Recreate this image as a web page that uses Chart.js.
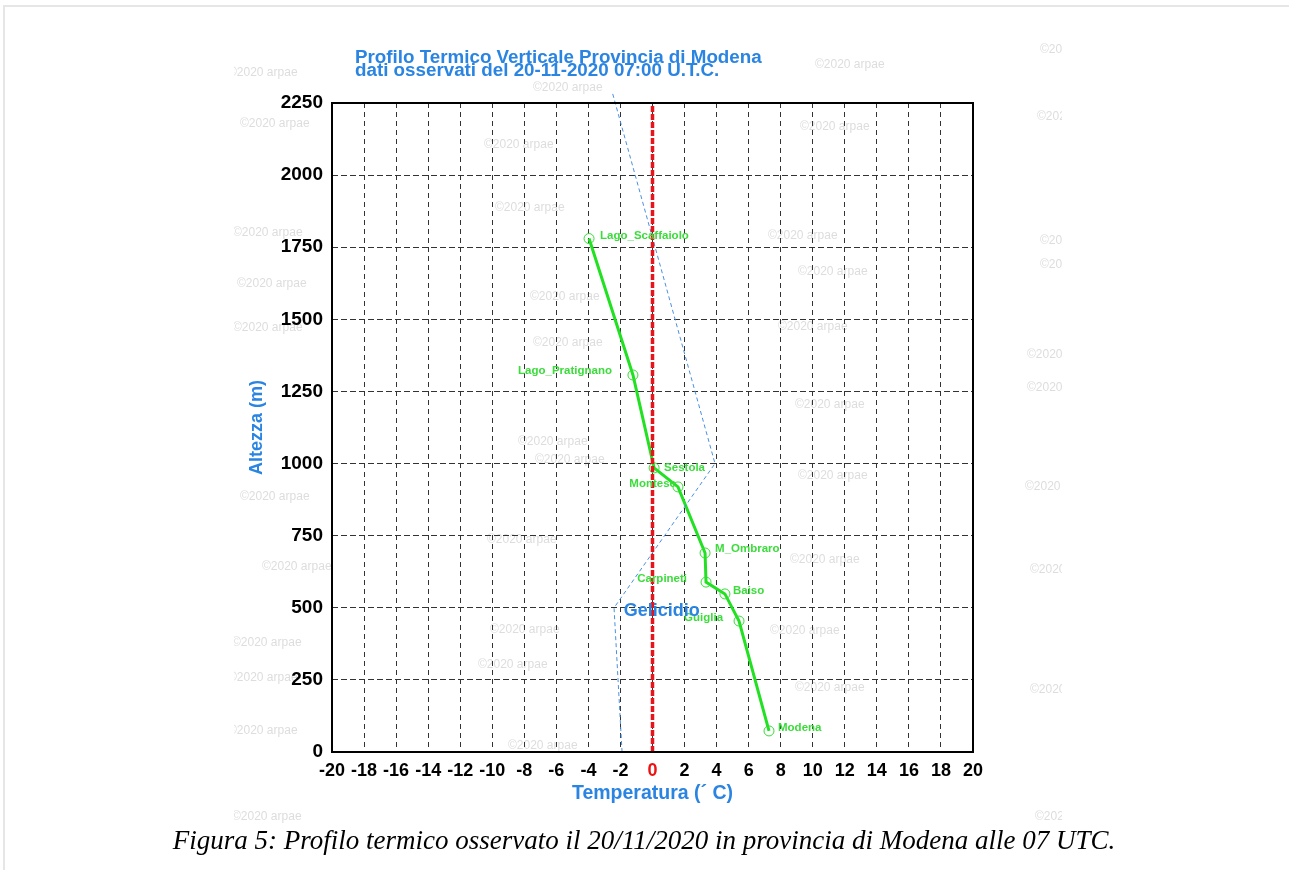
<!DOCTYPE html>
<html><head><meta charset="utf-8">
<script src="https://cdn.jsdelivr.net/npm/chart.js@4.4.0/dist/chart.umd.min.js"></script>
<style>
html,body{margin:0;padding:0;background:#fff;}
#wrap{position:relative;width:1289px;height:870px;overflow:hidden;}
#frame{position:absolute;left:3px;top:5px;width:1290px;height:870px;border-left:2px solid #e6e6e6;border-top:2px solid #e6e6e6;box-sizing:border-box;}
canvas{position:absolute;left:0;top:0;}
</style></head>
<body><div id="wrap"><div id="frame"></div><canvas id="c" width="1289" height="870"></canvas></div>
<script>
// ---- data ----
const stationNames   = ['Lago_Scaffaiolo','Lago_Pratignano','Sestola','Montese','M_Ombraro','Carpineti','Baiso','Guiglia','Modena'];
const stationTemps   = [-3.96, -1.22, 0.1, 1.59, 3.28, 3.34, 4.52, 5.4, 7.27];
const stationHeights = [1780, 1307, 985, 919, 690, 589, 548, 454, 73];
const refTemps   = [-1.9, -2.4, 3.9, -2.5];
const refHeights = [0, 500, 1000, 2285];
const zeroTemps   = [0, 0];
const zeroHeights = [0, 2250];
const xTicks = [-20,-18,-16,-14,-12,-10,-8,-6,-4,-2,0,2,4,6,8,10,12,14,16,18,20];
const yTicks = [0,250,500,750,1000,1250,1500,1750,2000,2250];
const titleLines = ['Profilo Termico Verticale Provincia di Modena','dati osservati del 20-11-2020 07:00 U.T.C.'];
const xTitle = 'Temperatura (\u00B4 C)';
const yTitle = 'Altezza (m)';
const captionText = 'Figura 5: Profilo termico osservato il 20/11/2020 in provincia di Modena alle 07 UTC.';
const noteText = 'Gelicidio';
const noteTemp = -1.8;
const noteHeight = 490;

// ---- styling (not data) ----
const labelPlacement = {
  'Lago_Scaffaiolo': {align:'left',  dx: 11, dy:-3},
  'Lago_Pratignano': {align:'right', dx:-21, dy:-4},
  'Sestola':         {align:'left',  dx: 10, dy: 0},
  'Montese':         {align:'right', dx: -2, dy:-3},
  'M_Ombraro':       {align:'left',  dx: 10, dy:-4},
  'Carpineti':       {align:'right', dx:-19, dy:-3},
  'Baiso':           {align:'left',  dx:  8, dy:-3},
  'Guiglia':         {align:'right', dx:-16, dy:-3},
  'Modena':          {align:'left',  dx:  9, dy:-3}
};
const watermarks = [
  [228,73],[533,88],[815,65],[1040,50],[240,124],[800,127],[484,145],[1037,117],
  [495,208],[233,233],[768,236],[1040,241],[798,272],[1040,265],[237,284],[530,297],
  [233,328],[778,327],[533,343],[1027,355],[1027,388],[795,405],[518,442],[535,460],
  [798,476],[1025,487],[240,497],[262,567],[487,540],[790,560],[1030,570],[490,630],
  [770,631],[232,643],[478,665],[228,678],[795,688],[1030,690],[228,731],[508,746],[1035,817],[232,817]
];
const FONT = '"Liberation Sans", Arial, Helvetica, sans-serif';
const BLUE = '#2a84e2';
const GREEN = '#22e022';

const toPts = (xs, ys) => xs.map((x, i) => ({x: x, y: ys[i]}));

const decor = {
  id: 'decor',
  beforeDraw(chart) {
    const ctx = chart.ctx;
    ctx.save();
    ctx.beginPath();
    ctx.rect(234, 30, 828, 800);
    ctx.clip();
    ctx.fillStyle = '#dddddd';
    ctx.font = '12px ' + FONT;
    ctx.textBaseline = 'middle';
    watermarks.forEach(([x, y]) => ctx.fillText('\u00A92020 arpae', x, y));
    ctx.restore();
  },
  afterDatasetsDraw(chart) {
    const ctx = chart.ctx, a = chart.chartArea;
    ctx.save();
    ctx.strokeStyle = '#000';
    ctx.lineWidth = 2;
    ctx.strokeRect(a.left, a.top, a.right - a.left, a.bottom - a.top);
    const meta = chart.getDatasetMeta(2);
    ctx.font = 'bold 11.5px ' + FONT;
    ctx.fillStyle = '#3bdc3b';
    ctx.textBaseline = 'middle';
    meta.data.forEach((el, i) => {
      const name = stationNames[i];
      const p = labelPlacement[name];
      ctx.textAlign = p.align;
      ctx.fillText(name, el.x + p.dx, el.y + p.dy);
    });
    const xs = chart.scales.x, ys = chart.scales.y;
    ctx.font = 'bold 18px ' + FONT;
    ctx.fillStyle = BLUE;
    ctx.textAlign = 'left';
    ctx.fillText(noteText, xs.getPixelForValue(noteTemp), ys.getPixelForValue(noteHeight));
    ctx.restore();
  },
  afterDraw(chart) {
    const ctx = chart.ctx;
    ctx.save();
    ctx.fillStyle = BLUE;
    ctx.font = 'bold 18.8px ' + FONT;
    ctx.textAlign = 'left';
    ctx.textBaseline = 'alphabetic';
    ctx.fillText(titleLines[0], 355, 62.5);
    ctx.fillText(titleLines[1], 355, 76);
    ctx.fillStyle = '#000';
    ctx.font = 'italic 27px "Liberation Serif", "Times New Roman", serif';
    ctx.textAlign = 'center';
    ctx.fillText(captionText, 644, 849);
    ctx.restore();
  }
};

new Chart(document.getElementById('c'), {
  type: 'scatter',
  data: {
    datasets: [
      {
        data: toPts(zeroTemps, zeroHeights), showLine: true,
        borderColor: '#e8141c', borderWidth: 3.5, borderDash: [6, 2],
        pointRadius: 0, clip: false
      },
      {
        data: toPts(refTemps, refHeights), showLine: true,
        borderColor: '#4a8fe0', borderWidth: 1, borderDash: [4, 3],
        pointRadius: 0, clip: false
      },
      {
        data: toPts(stationTemps, stationHeights), showLine: true,
        borderColor: GREEN, borderWidth: 3,
        pointRadius: 5, pointBorderWidth: 1, pointBorderColor: '#33dd33',
        pointBackgroundColor: 'rgba(0,0,0,0)', clip: false
      }
    ]
  },
  options: {
    responsive: false,
    animation: false,
    events: [],
    layout: {padding: {left: 246, right: 316, top: 103, bottom: 63}},
    plugins: {legend: {display: false}, tooltip: {enabled: false}, title: {display: false}},
    scales: {
      x: {
        type: 'linear', min: -20, max: 20,
        afterBuildTicks: s => { s.ticks = xTicks.map(v => ({value: v})); },
        afterFit: s => { s.height = 55; },
        ticks: {
          padding: 8, maxRotation: 0, autoSkip: false,
          callback: v => String(v),
          font: {family: FONT, weight: 'bold', size: 18},
          color: c => (c.tick && c.tick.value === 0) ? '#ee1111' : '#000'
        },
        grid: {color: '#333', lineWidth: 1, drawTicks: false},
        border: {display: false, dash: [5, 4]},
        title: {display: true, text: xTitle, color: BLUE, padding: {top: 0, bottom: 2},
                font: {family: FONT, weight: 'bold', size: 19.5}}
      },
      y: {
        type: 'linear', min: 0, max: 2250,
        afterBuildTicks: s => { s.ticks = yTicks.map(v => ({value: v})); },
        afterFit: s => { s.width = 86; },
        ticks: {padding: 9, autoSkip: false, color: '#000',
                callback: v => String(v),
                font: {family: FONT, weight: 'bold', size: 19}},
        grid: {color: '#333', lineWidth: 1, drawTicks: false},
        border: {display: false, dash: [6, 3]},
        title: {display: true, text: yTitle, color: BLUE, padding: {top: 0, bottom: 0},
                font: {family: FONT, weight: 'bold', size: 18}}
      }
    }
  },
  plugins: [decor]
});
</script>
</body></html>
